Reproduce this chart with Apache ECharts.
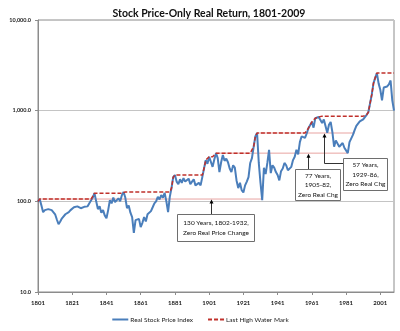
<!DOCTYPE html>
<html>
<head>
<meta charset="utf-8">
<title>Stock Price-Only Real Return, 1801-2009</title>
<script src="https://cdn.jsdelivr.net/npm/echarts@6/dist/echarts.min.js"></script>
<style>
  html, body { margin: 0; padding: 0; background: #fff; }
  #chart { width: 400px; height: 331px; }
</style>
</head>
<body>
<div id="chart"></div>
<script>
// Real stock price index (price-only, inflation adjusted), one value per year from 1801
const firstYear = 1801;
const realPriceIndex = [
  100, 106, 90, 76, 80, 78, 82, 79, 80, 78,          // 1801-1810
  72, 63, 56, 60, 65, 67, 72, 74, 76, 80,            // 1811-1820
  84, 86, 82, 88, 86, 84, 87, 87, 90, 88,            // 1821-1830
  95, 98, 110, 123, 100, 82, 88, 75, 80, 70,         // 1831-1840
  65, 80, 103, 95, 110, 98, 95, 108, 100, 117,       // 1841-1850
  127, 110, 84, 90, 75, 67, 45, 62, 59, 64,          // 1851-1860
  52, 58, 67, 60, 72, 70, 78, 86, 95, 100,           // 1861-1870
  112, 105, 117, 110, 124, 100, 76, 112, 140, 185,   // 1871-1880
  195, 165, 155, 175, 160, 180, 165, 170, 178, 155,  // 1881-1890
  165, 175, 150, 145, 160, 150, 185, 230, 285, 260,  // 1891-1900
  310, 300, 240, 290, 340, 300, 210, 270, 325, 280,  // 1901-1910
  295, 270, 230, 210, 250, 235, 170, 140, 160, 133,  // 1911-1920
  125, 150, 165, 185, 265, 300, 400, 520, 567, 265,  // 1921-1930
  160, 103, 235, 200, 265, 370, 205, 250, 235, 210,  // 1931-1940
  195, 170, 215, 230, 265, 250, 220, 215, 240, 285,  // 1941-1950
  310, 370, 330, 450, 520, 540, 500, 560, 640, 620,  // 1951-1960
  750, 650, 825, 840, 850, 870, 730, 800, 790, 570,  // 1961-1970
  700, 750, 580, 400, 470, 480, 400, 410, 440, 390,  // 1971-1980
  380, 340, 450, 460, 540, 610, 680, 690, 760, 750,  // 1981-1990
  800, 850, 900, 960, 1200, 1500, 2000, 2300, 2600, 2000, // 1991-2000
  1700, 1300, 1800, 1850, 1850, 1950, 2150, 1300, 1000    // 2001-2009
];

const years = realPriceIndex.map((_, i) => String(firstYear + i));

// Last high water mark: highest index level reached so far
const highWaterMark = [];
realPriceIndex.forEach((v, i) => {
  highWaterMark.push(i === 0 ? v : Math.max(v, highWaterMark[i - 1]));
});

// Zero-real-change spans: level of a prior peak and the year it was regained
const spanStartYears = ['1802', '1905', '1929'];
const spanEndYears = ['1932', '1982', '1986'];
const spanLevels = [106, 340, 567];

// Callout texts and the year each pointer sits on
const calloutTexts = [
  '130 Years, 1802-1932,\nZero Real Price Change',
  '77 Years,\n1905-82,\nZero Real Chg',
  '57 Years,\n1929-86,\nZero Real Chg'
];
const calloutYears = ['1902', '1959', '1968'];

// Y axis tick values
const yTicks = [10, 100, 1000, 10000];

const FONT = 'Lato, "Open Sans", sans-serif';
const blue = '#4A7EBB';
const red = '#C0302B';
const pink = '#E8A3A1';

const chart = echarts.init(document.getElementById('chart'), null, { renderer: 'canvas' });

const spanSeries = spanLevels.map((lvl, k) => ({
  name: 'span' + k,
  type: 'line',
  data: [[spanStartYears[k], lvl], [spanEndYears[k], lvl]],
  symbol: 'none',
  silent: true,
  lineStyle: { color: pink, width: 1 },
  z: 1
}));

chart.setOption({
  animation: false,
  backgroundColor: '#fff',
  title: {
    text: 'Stock Price-Only Real Return, 1801-2009',
    left: 204,
    textAlign: 'center',
    top: 3,
    textStyle: { fontFamily: FONT, fontSize: 10.5, fontWeight: 'bold', color: '#111' }
  },
  grid: {
    left: 38, right: 6, top: 20, bottom: 39,
    show: true, borderColor: '#8C8C8C', borderWidth: 1
  },
  legend: {
    data: ['Real Stock Price Index', 'Last High Water Mark'],
    bottom: 3,
    left: 'center',
    itemWidth: 16,
    itemHeight: 6,
    itemGap: 14,
    itemStyle: { opacity: 0 },
    textStyle: { fontFamily: FONT, fontSize: 6.5, color: '#222', padding: [0, 0, 0, -3] }
  },
  xAxis: {
    type: 'category',
    data: years,
    boundaryGap: false,
    axisLine: { lineStyle: { color: '#8C8C8C' } },
    axisTick: { interval: 19, length: 3, lineStyle: { color: '#8C8C8C' } },
    axisLabel: {
      interval: 19, fontFamily: FONT, fontSize: 6, fontWeight: 'bold', color: '#222', margin: 8
    },
    splitLine: { show: false }
  },
  yAxis: {
    type: 'log',
    logBase: 10,
    min: yTicks[0],
    max: yTicks[yTicks.length - 1],
    axisLine: { show: true, lineStyle: { color: '#8C8C8C' } },
    axisTick: { show: true, length: 3, lineStyle: { color: '#8C8C8C' } },
    axisLabel: {
      fontFamily: FONT, fontSize: 5.5, fontWeight: 'bold', color: '#222', margin: 7,
      formatter: v => Number(v).toLocaleString('en-US', { minimumFractionDigits: 1, maximumFractionDigits: 1 })
    },
    splitLine: { show: true, lineStyle: { color: '#C4C4C4', width: 1 } }
  },
  series: [
    ...spanSeries,
    {
      name: 'Real Stock Price Index',
      type: 'line',
      data: realPriceIndex,
      symbol: 'none',
      lineStyle: { color: blue, width: 2 },
      itemStyle: { color: blue },
      z: 2
    },
    {
      name: 'Last High Water Mark',
      type: 'line',
      data: highWaterMark,
      symbol: 'none',
      lineStyle: { color: red, width: 1.5, type: [4, 2] },
      itemStyle: { color: red },
      z: 3
    }
  ]
});

// Callout boxes with pointers to the zero-change levels
const boxes = [
  { x: 177, y: 214, w: 77, h: 27, lh: 10.5 },
  { x: 295, y: 169, w: 45, h: 31, lh: 9.5 },
  { x: 343, y: 158, w: 44, h: 32, lh: 9.5 }
];

const graphics = [];
boxes.forEach((b, k) => {
  graphics.push({
    type: 'rect', z: 10,
    shape: { x: b.x + 0.5, y: b.y + 0.5, width: b.w, height: b.h },
    style: { fill: '#fff', stroke: '#6E6E6E', lineWidth: 1 }
  });
  graphics.push({
    type: 'text', z: 11,
    style: {
      x: b.x + b.w / 2 + 0.5, y: b.y + b.h / 2 + 0.5,
      text: calloutTexts[k],
      textAlign: 'center', textVerticalAlign: 'middle',
      fontFamily: FONT, fontSize: 6.5, lineHeight: b.lh, fill: '#111'
    }
  });
});

function arrowHead(px, py) {
  return {
    type: 'polygon', z: 12,
    shape: { points: [[px, py], [px - 2, py + 4], [px + 2, py + 4]] },
    style: { fill: '#000' }
  };
}

// Pointers 1 and 2: straight up from the box top to the level
[0, 1].forEach(k => {
  const lvl = spanLevels[k];
  const p = chart.convertToPixel({ gridIndex: 0 }, [calloutYears[k], lvl]);
  const px = Math.round(p[0]) + 0.5;
  graphics.push({
    type: 'line', z: 12,
    shape: { x1: px, y1: boxes[k].y, x2: px, y2: p[1] + 2 },
    style: { stroke: '#333', lineWidth: 1 }
  });
  graphics.push(arrowHead(px, p[1] + 0.5));
});

// Pointer 3: elbow from the box's left side up to the level
(function () {
  const k = 2;
  const p = chart.convertToPixel({ gridIndex: 0 }, [calloutYears[k], spanLevels[k]]);
  const px = Math.round(p[0]) + 0.5;
  const py = boxes[k].y + 5.5;
  graphics.push({
    type: 'polyline', z: 12,
    shape: { points: [[boxes[k].x, py], [px, py], [px, p[1] + 2]] },
    style: { stroke: '#333', lineWidth: 1, fill: null }
  });
  graphics.push(arrowHead(px, p[1] + 0.5));
})();

chart.setOption({ graphic: graphics });
</script>
</body>
</html>
